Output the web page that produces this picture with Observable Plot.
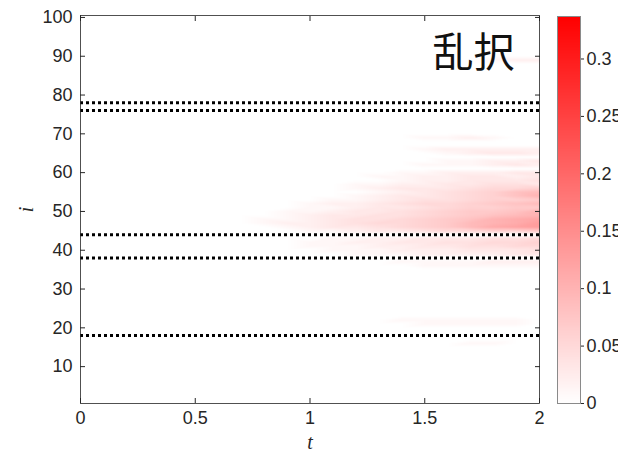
<!DOCTYPE html>
<html>
<head>
<meta charset="utf-8">
<script src="https://cdn.jsdelivr.net/npm/d3@7"></script>
<script src="https://cdn.jsdelivr.net/npm/@observablehq/plot@0.6"></script>
<style>
  html, body { margin: 0; padding: 0; background: #fff; overflow: hidden; }
  #wrap { position: relative; width: 618px; height: 458px; }
  #main, #cbar { position: absolute; top: 0; }
  #main { left: 0; }
  #cbar { left: 530px; }
  svg { overflow: visible; }
  [aria-label="x-axis label"] text, [aria-label="y-axis label"] text,
  [aria-label="x-axis label"], [aria-label="y-axis label"] {
    font-family: "Liberation Serif", "DejaVu Serif", serif; font-style: italic; font-size: 20px;
  }
</style>
</head>
<body>
<div id="wrap"><div id="main"></div><div id="cbar"></div></div>
<script>
// ---- data ----
// sample times (t) for each column of values
const tSamples = [0.1, 0.2, 0.3, 0.4, 0.5, 0.6, 0.7, 0.8, 0.9, 1.0, 1.1, 1.2, 1.3, 1.4, 1.5, 1.6, 1.7, 1.8, 1.9, 2.0];
const rowI = [89, 69, 66, 65, 63, 62, 60, 59, 58, 57, 56, 55, 54, 53, 52, 51, 50, 49, 48, 47, 46, 45, 43, 42, 41, 40, 39, 37, 36, 22, 21, 16];
// values in hundredths, one per sample time; every other row is 0
const rowVals = [
  [0,0,0,0,0,0,0,0,0,0,0,0,0,0,0,0,0,1,2,2],
  [0,0,0,0,0,0,0,0,0,0,0,0,0,0,1,1,2,1,0,0],
  [0,0,0,0,0,0,0,0,0,0,0,0,0,0,1,2,2,2,2,2],
  [0,0,0,0,0,0,0,0,0,0,0,0,0,0,0,1,2,3,3,2],
  [0,0,0,0,0,0,0,0,0,0,0,0,0,0,0,1,1,2,2,3],
  [0,0,0,0,0,0,0,0,0,0,0,0,0,0,1,1,1,2,3,2],
  [0,0,0,0,0,0,0,0,0,0,0,0,0,1,1,2,2,2,3,3],
  [0,0,0,0,0,0,0,0,0,0,0,0,1,1,2,2,3,3,2,3],
  [0,0,0,0,0,0,0,0,0,0,0,0,0,1,2,2,3,3,3,4],
  [0,0,0,0,0,0,0,0,0,0,0,1,1,2,2,3,3,4,4,3],
  [0,0,0,0,0,0,0,0,0,0,0,1,2,3,3,3,4,5,5,6],
  [0,0,0,0,0,0,0,0,0,0,0,0,1,2,3,4,5,6,8,9],
  [0,0,0,0,0,0,0,0,0,0,0,1,2,3,3,4,5,6,8,10],
  [0,0,0,0,0,0,0,0,0,0,1,1,2,3,4,4,5,6,6,7],
  [0,0,0,0,0,0,0,0,0,1,2,2,3,4,5,5,6,7,8,9],
  [0,0,0,0,0,0,0,0,0,1,1,2,3,3,4,5,6,6,7,7],
  [0,0,0,0,0,0,0,0,1,1,2,3,3,4,5,6,7,7,8,10],
  [0,0,0,0,0,0,0,0,1,2,3,3,4,4,5,6,7,8,9,10],
  [0,0,0,0,0,0,0,1,1,2,3,4,4,5,6,7,8,10,11,12],
  [0,0,0,0,0,0,0,1,2,2,3,4,5,5,6,7,9,10,11,13],
  [0,0,0,0,0,0,0,0,1,2,3,3,4,5,6,7,9,11,12,13],
  [0,0,0,0,0,0,0,0,0,1,1,2,3,3,4,5,5,6,6,7],
  [0,0,0,0,0,0,0,0,0,0,1,1,2,2,3,3,3,4,4,5],
  [0,0,0,0,0,0,0,0,0,1,1,2,2,3,3,4,4,5,5,6],
  [0,0,0,0,0,0,0,0,0,1,1,1,2,2,3,3,4,4,5,5],
  [0,0,0,0,0,0,0,0,0,0,1,1,1,2,2,2,3,3,3,4],
  [0,0,0,0,0,0,0,0,0,0,0,1,1,1,2,2,2,2,3,3],
  [0,0,0,0,0,0,0,0,0,0,0,0,0,1,1,1,1,2,2,2],
  [0,0,0,0,0,0,0,0,0,0,0,0,0,0,1,1,1,1,1,1],
  [0,0,0,0,0,0,0,0,0,0,0,0,0,1,1,1,1,1,1,0],
  [0,0,0,0,0,0,0,0,0,0,0,0,0,0,1,1,1,1,1,0],
  [0,0,0,0,0,0,0,0,0,0,0,0,0,0,0,0,1,1,0,0]
];
const nRows = 100;
const dotLevels = [18, 38, 44, 76, 78];
const xTicks = [0, 0.5, 1, 1.5, 2];
const yTicks = [10, 20, 30, 40, 50, 60, 70, 80, 90, 100];
const cTicks = [0, 0.05, 0.1, 0.15, 0.2, 0.25, 0.3];
const cMax = 0.337;
const title = "乱択";

// ---- build full grid table (rows not listed are zero) ----
const byRow = new Map(rowI.map((i, r) => [i, rowVals[r]]));
const grid = [];
for (let i = 1; i <= nRows; i++) {
  const vals = byRow.get(i);
  grid.push({t: 0, i, v: 0});
  tSamples.forEach((t, k) => grid.push({t, i, v: vals ? vals[k] / 100 : 0}));
}

const colorScale = {type: "linear", domain: [0, cMax], range: ["#ffffff", "#ff0000"], interpolate: "rgb"};
const ink = "#262626";
const font = {fontFamily: "'Liberation Sans', Arial, sans-serif", fontSize: "18px", color: ink};

const main = Plot.plot({
  width: 545, height: 458,
  marginLeft: 80, marginRight: 6, marginTop: 15, marginBottom: 55,
  style: font,
  x: {domain: [0, 2]},
  y: {domain: [0.5, 100.5]},
  color: colorScale,
  marks: [
    Plot.raster(grid, {x: "t", y: "i", fill: "v", interpolate: "barycentric", pixelSize: 1}),
    Plot.ruleY(dotLevels, {stroke: "black", strokeWidth: 3, strokeDasharray: "3,3"}),
    Plot.frame({stroke: ink, strokeWidth: 0.8}),
    Plot.axisX({ticks: xTicks, tickFormat: d => String(d), tickSize: -5, tickPadding: 13, label: "t", labelAnchor: "center", labelArrow: "none", labelOffset: 45}),
    Plot.axisX({anchor: "top", ticks: xTicks, tickFormat: () => "", tickSize: -5, label: null}),
    Plot.axisY({ticks: yTicks, tickFormat: d => String(d), tickSize: -5, tickPadding: 13, label: "i", labelAnchor: "center", labelArrow: "none", labelOffset: 62}),
    Plot.axisY({anchor: "right", ticks: yTicks, tickFormat: () => "", tickSize: -5, label: null}),
    Plot.text([title], {frameAnchor: "top-right", dx: -25, dy: 22, lineAnchor: "top", textAnchor: "end", fontSize: 41, fontFamily: "'Noto Sans CJK JP', sans-serif", fill: "#111"})
  ]
});
document.getElementById("main").appendChild(main);

// ---- colorbar ----
const cbar = Plot.plot({
  width: 88, height: 458,
  marginLeft: 27, marginRight: 38, marginTop: 16, marginBottom: 55,
  style: font,
  x: {domain: [0, 1], axis: null},
  y: {domain: [0, cMax], axis: null},
  color: colorScale,
  marks: [
    Plot.raster({x1: 0, x2: 1, y1: 0, y2: cMax, width: 1, height: 400, fill: (x, y) => y}),
    Plot.frame({stroke: "#8a8a8a", strokeWidth: 1}),
    Plot.axisY({anchor: "right", ticks: cTicks, tickFormat: d => String(d), tickSize: 3, tickPadding: 3, label: null})
  ]
});
document.getElementById("cbar").appendChild(cbar);
</script>
</body>
</html>
